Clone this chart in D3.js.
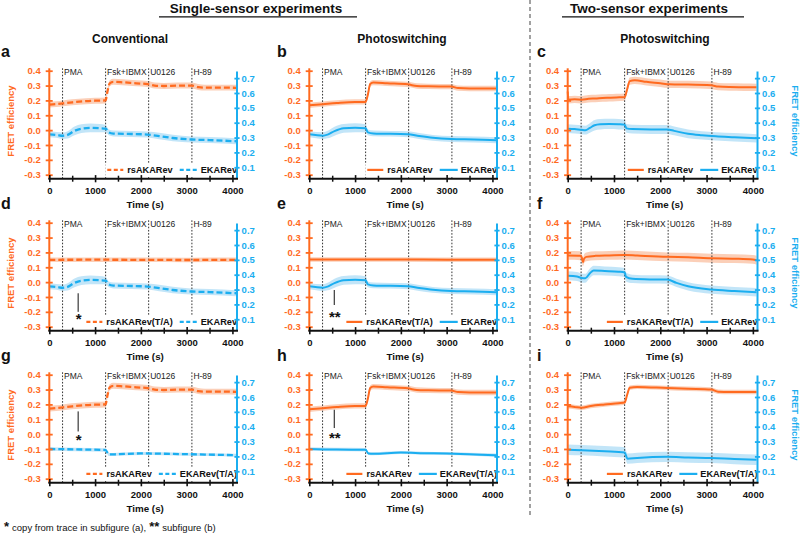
<!DOCTYPE html>
<html><head><meta charset="utf-8">
<script src="https://cdn.jsdelivr.net/npm/d3@7"></script>
<style>body{margin:0;background:#fff} svg{display:block;font-family:"Liberation Sans",Arial,sans-serif}</style>
</head><body><svg id="c" width="800" height="537"></svg>
<script>
// ---------- data ----------
const events = [290, 1230, 2170, 3115];
const eventLabels = ["PMA", "Fsk+IBMX", "U0126", "H-89"];
const xTicksMajor = [0, 1000, 2000, 3000, 4000];
const xTicksMinor = [500, 1500, 2500, 3500];
const leftTicks = [-0.3, -0.2, -0.1, 0, 0.1, 0.2, 0.3, 0.4];
const rightTicks = [0.1, 0.2, 0.3, 0.4, 0.5, 0.6, 0.7];

// [time (s), mean, half-width of band]; orange = left axis, blue = right axis
const convAKAR = [[0,0.172,0.02],[150,0.175,0.02],[300,0.18,0.02],[500,0.187,0.02],[800,0.195,0.02],[1000,0.198,0.02],[1230,0.2,0.02],[1270,0.26,0.02],[1320,0.315,0.02],[1400,0.325,0.02],[1600,0.322,0.02],[1900,0.315,0.02],[2150,0.31,0.02],[2300,0.3,0.02],[2500,0.297,0.02],[2800,0.3,0.02],[3100,0.3,0.02],[3250,0.29,0.02],[3400,0.286,0.02],[3800,0.286,0.02],[4080,0.285,0.02]];
const convEKAR = [[0,0.322,0.02],[150,0.318,0.02],[300,0.312,0.022],[400,0.318,0.025],[550,0.345,0.03],[700,0.36,0.03],[900,0.365,0.03],[1100,0.363,0.028],[1230,0.36,0.025],[1300,0.335,0.02],[1400,0.327,0.02],[1800,0.324,0.02],[2150,0.32,0.02],[2400,0.31,0.022],[2700,0.297,0.022],[3100,0.287,0.02],[3500,0.283,0.02],[4080,0.275,0.02]];
const photoAKAR = [[0,0.167,0.018],[300,0.175,0.018],[600,0.183,0.018],[1000,0.19,0.018],[1230,0.19,0.018],[1280,0.24,0.018],[1330,0.31,0.018],[1400,0.32,0.018],[1700,0.315,0.018],[2150,0.308,0.018],[2350,0.297,0.018],[2600,0.295,0.018],[3100,0.293,0.018],[3250,0.283,0.018],[3500,0.28,0.018],[4080,0.28,0.018]];
const photoEKAR = [[0,0.322,0.02],[300,0.313,0.022],[400,0.32,0.025],[550,0.343,0.03],[750,0.362,0.03],[1000,0.366,0.03],[1230,0.362,0.028],[1280,0.335,0.02],[1400,0.328,0.02],[2150,0.322,0.02],[2400,0.31,0.02],[2700,0.298,0.02],[3100,0.29,0.02],[3600,0.287,0.02],[4080,0.282,0.02]];
const convAKARTA = [[0,0.15,0.015],[1000,0.151,0.015],[2000,0.15,0.015],[3000,0.149,0.015],[4080,0.15,0.015]];
const photoAKARTA = [[0,0.153,0.015],[1000,0.152,0.015],[2000,0.153,0.015],[3000,0.151,0.015],[4080,0.151,0.015]];
const convEKARTA = [[0,0.25,0.012],[600,0.247,0.012],[1230,0.243,0.012],[1300,0.213,0.01],[1500,0.215,0.01],[2000,0.22,0.01],[2500,0.218,0.01],[3000,0.215,0.01],[3500,0.212,0.01],[4080,0.208,0.01]];
const photoEKARTA = [[0,0.25,0.012],[600,0.246,0.012],[1230,0.245,0.012],[1290,0.22,0.01],[1400,0.218,0.01],[2000,0.226,0.01],[2500,0.222,0.01],[3000,0.219,0.01],[3500,0.214,0.01],[4080,0.208,0.012]];
const dualAKAR_c = [[0,0.26,0.03],[15,0.205,0.025],[150,0.207,0.025],[300,0.205,0.025],[450,0.211,0.025],[600,0.213,0.025],[750,0.216,0.025],[900,0.218,0.025],[1050,0.22,0.025],[1230,0.222,0.025],[1280,0.27,0.025],[1340,0.33,0.025],[1450,0.335,0.025],[1700,0.325,0.025],[2000,0.315,0.025],[2200,0.308,0.025],[2600,0.307,0.025],[3100,0.302,0.025],[3250,0.293,0.025],[3500,0.29,0.025],[3800,0.289,0.025],[4080,0.288,0.025]];
const dualEKAR_c = [[0,0.36,0.03],[150,0.357,0.03],[300,0.352,0.03],[380,0.35,0.03],[480,0.365,0.032],[580,0.383,0.035],[700,0.39,0.035],[900,0.392,0.035],[1100,0.39,0.035],[1230,0.387,0.033],[1270,0.362,0.03],[1400,0.357,0.03],[1800,0.354,0.03],[2150,0.354,0.03],[2300,0.345,0.03],[2600,0.325,0.03],[2900,0.315,0.028],[3200,0.308,0.028],[3600,0.302,0.028],[4080,0.295,0.028]];
const dualAKARTA_f = [[0,0.18,0.03],[280,0.178,0.03],[310,0.16,0.03],[330,0.135,0.03],[350,0.155,0.03],[400,0.17,0.03],[600,0.177,0.03],[900,0.18,0.03],[1230,0.183,0.03],[1500,0.179,0.03],[2150,0.17,0.03],[2600,0.167,0.03],[3100,0.161,0.03],[3600,0.158,0.03],[4000,0.153,0.03],[4080,0.147,0.03]];
const dualEKAR_f = [[0,0.393,0.03],[200,0.388,0.03],[300,0.378,0.03],[380,0.376,0.03],[480,0.41,0.032],[560,0.428,0.032],[800,0.425,0.03],[1100,0.42,0.03],[1230,0.415,0.03],[1260,0.385,0.03],[1400,0.372,0.028],[1800,0.368,0.028],[2150,0.367,0.028],[2350,0.345,0.028],[2600,0.322,0.028],[3100,0.3,0.028],[3600,0.29,0.028],[4080,0.282,0.028]];
const dualAKAR_i = [[0,0.187,0.015],[150,0.183,0.015],[300,0.178,0.015],[500,0.19,0.015],[800,0.2,0.015],[1100,0.208,0.015],[1230,0.213,0.015],[1280,0.26,0.015],[1340,0.312,0.015],[1500,0.318,0.015],[2150,0.31,0.015],[2600,0.305,0.015],[3100,0.3,0.015],[3250,0.285,0.015],[3500,0.283,0.015],[4080,0.283,0.015]];
const dualEKARTA_i = [[0,0.245,0.035],[300,0.242,0.035],[800,0.235,0.035],[1230,0.227,0.035],[1290,0.185,0.035],[1500,0.19,0.035],[2150,0.197,0.035],[2600,0.193,0.035],[3100,0.19,0.035],[3600,0.183,0.035],[4080,0.178,0.035]];

const panels = [
  {id:"a", col:0,row:0, o:convAKAR,    b:convEKAR,    dash:true,  lo:"rsAKARev",      lb:"EKARev"},
  {id:"b", col:1,row:0, o:photoAKAR,   b:photoEKAR,   dash:false, lo:"rsAKARev",      lb:"EKARev"},
  {id:"c", col:2,row:0, o:dualAKAR_c,  b:dualEKAR_c,  dash:false, lo:"rsAKARev",      lb:"EKARev"},
  {id:"d", col:0,row:1, o:convAKARTA,  b:convEKAR,    dash:true,  lo:"rsAKARev(T/A)", lb:"EKARev", ann:{t:630,y1:-0.075,y2:-0.2,ly:-0.285,s:"*"}},
  {id:"e", col:1,row:1, o:photoAKARTA, b:photoEKAR,   dash:false, lo:"rsAKARev(T/A)", lb:"EKARev", ann:{t:545,y1:-0.053,y2:-0.154,ly:-0.265,s:"**"}},
  {id:"f", col:2,row:1, o:dualAKARTA_f,b:dualEKAR_f,  dash:false, lo:"rsAKARev(T/A)", lb:"EKARev"},
  {id:"g", col:0,row:2, o:convAKAR,    b:convEKARTA,  dash:true,  lo:"rsAKARev",      lb:"EKARev(T/A)", ann:{t:630,y1:0.153,y2:0.018,ly:-0.072,s:"*"}},
  {id:"h", col:1,row:2, o:photoAKAR,   b:photoEKARTA, dash:false, lo:"rsAKARev",      lb:"EKARev(T/A)", ann:{t:545,y1:0.164,y2:0.041,ly:-0.06,s:"**"}},
  {id:"i", col:2,row:2, o:dualAKAR_i,  b:dualEKARTA_i,dash:false, lo:"rsAKARev",      lb:"EKARev(T/A)"}
];

// ---------- layout ----------
const ORANGE = "#FF6A1F", BLUE = "#1BAEF0", OBAND = "#FAC7AC", BBAND = "#B7E1F7";
const colX = [[49.3, 237], [309.3, 497], [567.7, 757.5]];
const rowOff = [0, 152, 304];
const letterX = [1, 277, 537];
const subX = [130, 402, 665];
const subTitles = ["Conventional", "Photoswitching", "Photoswitching"];

const svg = d3.select("#c");

// headers
function header(txt, cx, u1, u2) {
  svg.append("text").attr("x", cx).attr("y", 12.6).attr("text-anchor", "middle")
    .attr("font-size", 13.5).attr("font-weight", "bold").attr("fill", "#111").text(txt);
  svg.append("line").attr("x1", u1).attr("x2", u2).attr("y1", 16.8).attr("y2", 16.8)
    .attr("stroke", "#111").attr("stroke-width", 1.3);
}
header("Single-sensor experiments", 256, 159, 357);
header("Two-sensor experiments", 649, 562, 744);

// divider
svg.append("line").attr("x1", 530).attr("x2", 530).attr("y1", 0).attr("y2", 515)
  .attr("stroke", "#8a8a8a").attr("stroke-width", 1.6).attr("stroke-dasharray", "4,3");

subTitles.forEach((s, i) => svg.append("text").attr("x", subX[i]).attr("y", 43)
  .attr("text-anchor", "middle").attr("font-size", 12).attr("font-weight", "bold").attr("fill", "#111").text(s));

panels.forEach(p => {
  const [x0, x1] = colX[p.col];
  const off = rowOff[p.row];
  const x = d3.scaleLinear().domain([0, 4100]).range([x0, x1]);
  const yL = d3.scaleLinear().domain([-0.3, 0.4]).range([174.7 + off, 70.7 + off]);
  const yR = d3.scaleLinear().domain([0.1, 0.7]).range([yL(-0.25), yL(0.35)]);
  const axisY = 178.7 + off;
  const g = svg.append("g");

  // panel letter
  g.append("text").attr("x", letterX[p.col]).attr("y", 57 + off).attr("font-size", 16)
    .attr("font-weight", "bold").attr("fill", "#111").text(p.id);

  const area = ys => d3.area().x(d => x(d[0])).y0(d => ys(d[1] - d[2])).y1(d => ys(d[1] + d[2])).curve(d3.curveMonotoneX);
  const line = ys => d3.line().x(d => x(d[0])).y(d => ys(d[1])).curve(d3.curveMonotoneX);

  g.append("path").attr("d", area(yL)(p.o)).attr("fill", OBAND).attr("opacity", 0.85);
  g.append("path").attr("d", area(yR)(p.b)).attr("fill", BBAND).attr("opacity", 0.85);

  // event lines
  events.forEach((t, i) => {
    g.append("line").attr("x1", x(t)).attr("x2", x(t)).attr("y1", 68.3 + off).attr("y2", axisY)
      .attr("stroke", "#333").attr("stroke-width", 1).attr("stroke-dasharray", "1.6,1.6");
    g.append("text").attr("x", x(t) + 1.5).attr("y", 75 + off).attr("font-size", 8.5)
      .attr("fill", "#222").text(eventLabels[i]);
  });

  const dash = p.dash ? "6,3" : null;
  g.append("path").attr("d", line(yL)(p.o)).attr("fill", "none").attr("stroke", ORANGE)
    .attr("stroke-width", p.dash ? 2.3 : 2).attr("stroke-dasharray", dash);
  g.append("path").attr("d", line(yR)(p.b)).attr("fill", "none").attr("stroke", BLUE)
    .attr("stroke-width", p.dash ? 2.3 : 2).attr("stroke-dasharray", dash);

  // legend
  const ly = yL(-0.3) - 1.5;
  const lg = g.append("g");
  const bg = lg.append("rect").attr("fill", "#fff");
  const tB = lg.append("text").attr("x", x1).attr("y", ly).attr("text-anchor", "end")
    .attr("font-size", 9.2).attr("font-weight", "bold").attr("fill", "#111").text(p.lb);
  const wB = tB.node().getComputedTextLength();
  const sB2 = x1 - wB - 3, sB1 = sB2 - 18;
  const oEnd = sB1 - 7;
  const tO = lg.append("text").attr("x", oEnd).attr("y", ly).attr("text-anchor", "end")
    .attr("font-size", 9.2).attr("font-weight", "bold").attr("fill", "#111").text(p.lo);
  const wO = tO.node().getComputedTextLength();
  const sO2 = oEnd - wO - 4, sO1 = sO2 - 16;
  const ld = p.dash ? "4,2.5" : null;
  lg.append("line").attr("x1", sO1).attr("x2", sO2).attr("y1", ly - 3.3).attr("y2", ly - 3.3)
    .attr("stroke", ORANGE).attr("stroke-width", 2.2).attr("stroke-dasharray", ld);
  lg.append("line").attr("x1", sB1).attr("x2", sB2).attr("y1", ly - 3.3).attr("y2", ly - 3.3)
    .attr("stroke", BLUE).attr("stroke-width", 2.2).attr("stroke-dasharray", ld);
  bg.attr("x", sO1 - 2).attr("y", ly - 10).attr("width", x1 - sO1 + 2).attr("height", 13);

  // annotation
  if (p.ann) {
    const a = p.ann;
    g.append("line").attr("x1", x(a.t)).attr("x2", x(a.t)).attr("y1", yL(a.y1)).attr("y2", yL(a.y2))
      .attr("stroke", "#111").attr("stroke-width", 1);
    g.append("text").attr("x", x(a.t) + 0.5).attr("y", yL(a.ly)).attr("text-anchor", "middle")
      .attr("font-size", 15).attr("font-weight", "bold").attr("fill", "#111").text(a.s);
  }

  // left axis
  const la = g.append("g").attr("transform", `translate(${x0},0)`)
    .call(d3.axisLeft(yL).tickValues(leftTicks).tickSize(3.6).tickPadding(5).tickFormat(d => d.toFixed(1)));
  la.select(".domain").remove();
  la.selectAll(".tick line").attr("x1", 3.4).attr("x2", -3.6).attr("stroke", ORANGE).attr("stroke-width", 1.8);
  la.selectAll("text").attr("fill", ORANGE).attr("font-size", 9.5).attr("font-weight", "bold")
    .attr("font-family", '"Liberation Sans", Arial, sans-serif');
  g.append("line").attr("x1", x0).attr("x2", x0).attr("y1", 68.3 + off).attr("y2", axisY)
    .attr("stroke", ORANGE).attr("stroke-width", 2);

  // right axis
  const ra = g.append("g").attr("transform", `translate(${x1},0)`)
    .call(d3.axisRight(yR).tickValues(rightTicks).tickSize(2.6).tickPadding(2).tickFormat(d => d.toFixed(1)));
  ra.select(".domain").remove();
  ra.selectAll(".tick line").attr("x1", -2.6).attr("x2", 2.6).attr("stroke", BLUE).attr("stroke-width", 1.8);
  ra.selectAll("text").attr("fill", BLUE).attr("font-size", 9.5).attr("font-weight", "bold")
    .attr("font-family", '"Liberation Sans", Arial, sans-serif');
  g.append("line").attr("x1", x1).attr("x2", x1).attr("y1", 71.5 + off).attr("y2", axisY)
    .attr("stroke", BLUE).attr("stroke-width", 2);

  // bottom axis
  const ba = g.append("g").attr("transform", `translate(0,${axisY})`)
    .call(d3.axisBottom(x).tickValues(xTicksMajor).tickSize(3.6).tickPadding(4.7).tickFormat(d3.format("d")));
  ba.select(".domain").remove();
  ba.selectAll(".tick line").attr("y1", -3.6).attr("y2", 3.6).attr("stroke", "#111").attr("stroke-width", 1.6);
  ba.selectAll("text").attr("fill", "#111").attr("font-size", 9.5).attr("font-weight", "bold")
    .attr("font-family", '"Liberation Sans", Arial, sans-serif');
  const bm = g.append("g").attr("transform", `translate(0,${axisY})`)
    .call(d3.axisBottom(x).tickValues(xTicksMinor).tickSize(3).tickFormat(""));
  bm.select(".domain").remove();
  bm.selectAll(".tick line").attr("y1", -3).attr("y2", 3).attr("stroke", "#111").attr("stroke-width", 1.5);
  g.append("line").attr("x1", x0 - 1).attr("x2", x1 + 1).attr("y1", axisY).attr("y2", axisY)
    .attr("stroke", "#111").attr("stroke-width", 2);
  g.append("text").attr("x", (x0 + x1) / 2 + 2).attr("y", axisY + 29).attr("text-anchor", "middle")
    .attr("font-size", 9.8).attr("font-weight", "bold").attr("fill", "#111").text("Time (s)");

  // axis titles
  const cy = 121 + off;
  if (p.col === 0) {
    g.append("text").attr("transform", `translate(13.5,${cy}) rotate(-90)`).attr("text-anchor", "middle")
      .attr("font-size", 9.5).attr("font-weight", "bold").attr("fill", ORANGE).text("FRET efficiency");
  }
  if (p.col === 2) {
    g.append("text").attr("transform", `translate(791.5,${cy}) rotate(90)`).attr("text-anchor", "middle")
      .attr("font-size", 9.5).attr("font-weight", "bold").attr("fill", BLUE).text("FRET efficiency");
  }
});

// footnote
const fn = svg.append("text").attr("x", 4).attr("y", 531).attr("font-size", 9.5).attr("fill", "#111");
fn.append("tspan").attr("font-weight", "bold").attr("font-size", 13).text("*");
fn.append("tspan").attr("dx", 3).text("copy from trace in subfigure (a),");
fn.append("tspan").attr("dx", 3).attr("font-weight", "bold").attr("font-size", 13).text("**");
fn.append("tspan").attr("dx", 3).text("subfigure (b)");
</script></body></html>
